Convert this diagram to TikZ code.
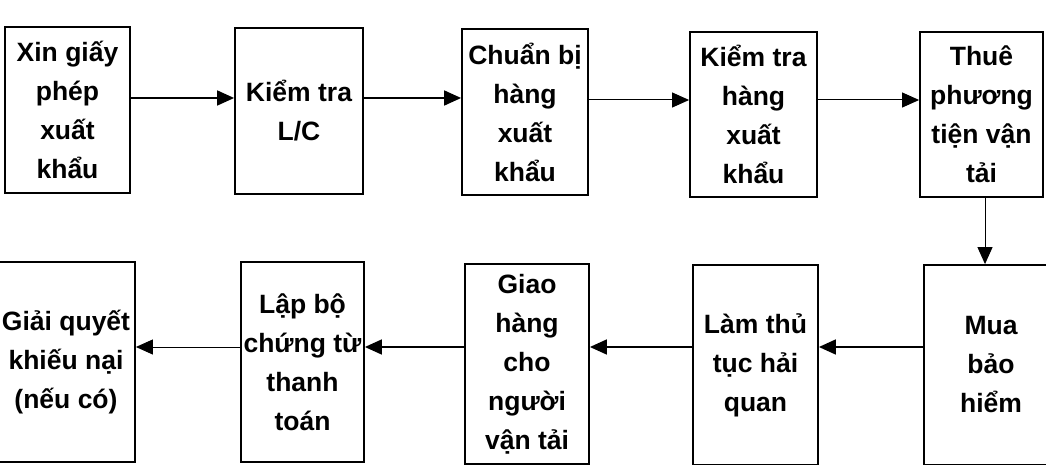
\documentclass[tikz,border=0pt]{standalone}
\usepackage{fontspec}
\setmainfont{Liberation Sans}
\usetikzlibrary{arrows.meta}
\begin{document}
\begin{tikzpicture}[x=1pt,y=-1pt,
  stepbox/.style={draw, line width=1.8pt, inner sep=0pt, align=center,
    font=\bfseries\fontsize{26.5}{39}\selectfont},
  flow/.style={-{Triangle[length=17pt,width=15pt]}, line width=1.7pt},
  thinflow/.style={-{Triangle[length=17pt,width=15pt]}, line width=1pt}]
\useasboundingbox (0,0) rectangle (1046,465);
\clip (0,0) rectangle (1046,465);
% top row
\node[stepbox, minimum width=125pt, minimum height=166pt] (b1) at (67.5,110) {Xin giấy\\phép\\xuất\\khẩu};
\node[stepbox, minimum width=128pt, minimum height=166pt] (b2) at (299,111) {Kiểm tra\\L/C};
\node[stepbox, minimum width=126pt, minimum height=166pt] (b3) at (525,112) {Chuẩn bị\\hàng\\xuất\\khẩu};
\node[stepbox, minimum width=127pt, minimum height=165pt] (b4) at (753.5,114.5) {Kiểm tra\\hàng\\xuất\\khẩu};
\node[stepbox, minimum width=123pt, minimum height=165pt] (b5) at (981.5,114.5) {Thuê\\phương\\tiện vận\\tải};
% bottom row
\node[stepbox, minimum width=138pt, minimum height=200pt] (c1) at (66,362) {Giải quyết\\khiếu nại\\(nếu có)};
\node[stepbox, minimum width=123pt, minimum height=200pt] (c2) at (302.5,362) {Lập bộ\\chứng từ\\thanh\\toán};
\node[stepbox, minimum width=124pt, minimum height=200pt] (c3) at (527,364) {Giao\\hàng\\cho\\người\\vận tải};
\node[stepbox, minimum width=125pt, minimum height=200pt] (c4) at (755.5,365) {Làm thủ\\tục hải\\quan};
\node[stepbox, minimum width=134pt, minimum height=200pt] (c5) at (991,365) {Mua\\bảo\\hiểm};
% arrow levels
\coordinate (r1) at (0,98);
\coordinate (r1b) at (0,100);
\coordinate (r2) at (0,347);
\coordinate (vx) at (985,0);
% connectors
\draw[flow] (b1.east |- r1) -- (b2.west |- r1);
\draw[flow] (b2.east |- r1) -- (b3.west |- r1);
\draw[thinflow] (b3.east |- r1b) -- (b4.west |- r1b);
\draw[thinflow] (b4.east |- r1b) -- (b5.west |- r1b);
\draw[thinflow] (b5.south -| vx) -- (c5.north -| vx);
\draw[flow] (c5.west |- r2) -- (c4.east |- r2);
\draw[flow] (c4.west |- r2) -- (c3.east |- r2);
\draw[flow] (c3.west |- r2) -- (c2.east |- r2);
\draw[thinflow] (c2.west |- r2) -- (c1.east |- r2);
\end{tikzpicture}
\end{document}
